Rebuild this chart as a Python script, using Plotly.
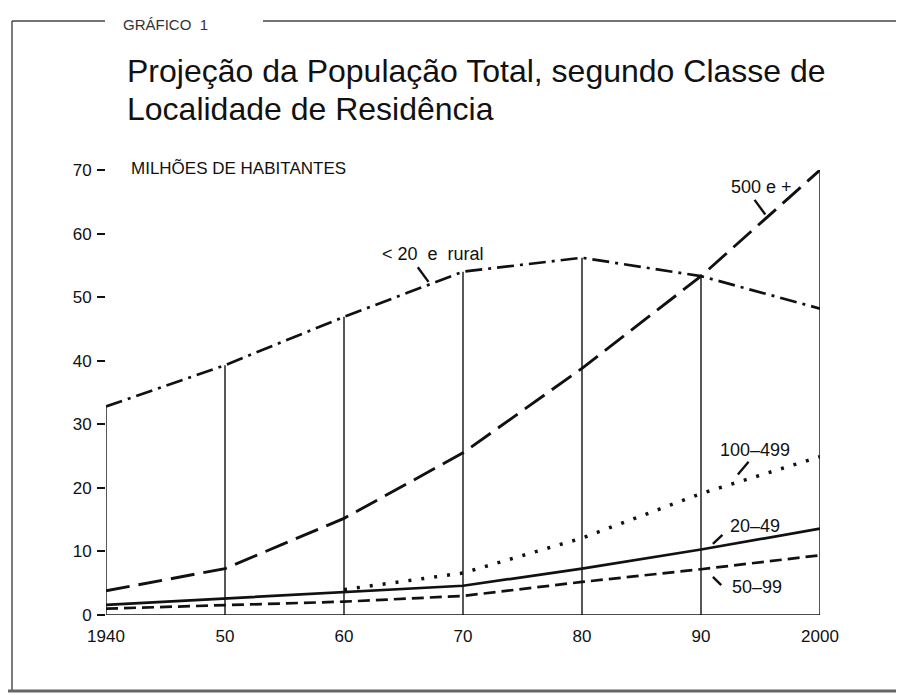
import plotly.graph_objects as go

# ---------------- data ----------------
years = [1940, 1950, 1960, 1970, 1980, 1990, 2000]
tick_text = ["1940", "50", "60", "70", "80", "90", "2000"]

rural_lt20 = [32.8, 39.3, 46.9, 54.0, 56.2, 53.3, 48.2]   # < 20 e rural
big_500 = [3.8, 7.3, 15.2, 25.5, 38.8, 53.3, 70.0]        # 500 e +
mid_100_499 = [None, None, 4.0, 6.6, 12.1, 19.1, 24.9]    # 100-499
small_20_49 = [1.6, 2.6, 3.6, 4.6, 7.3, 10.3, 13.6]       # 20-49
small_50_99 = [1.0, 1.5, 2.1, 3.0, 5.2, 7.2, 9.4]         # 50-99

y_ticks = [0, 10, 20, 30, 40, 50, 60, 70]

FONT = "Liberation Sans"
INK = "#111111"

# the page body adds an 8px offset; work in reference-pixel coordinates
OFF = 8
FIG_W, FIG_H = 904 - OFF, 695 - OFF

fig = go.Figure()

# vertical reference lines at each year, from 0 up to the highest series
all_series = [rural_lt20, big_500, mid_100_499, small_20_49, small_50_99]
vx, vy = [], []
for i, yr in enumerate(years):
    top = max(s[i] for s in all_series if s[i] is not None)
    vx += [yr, yr, None]
    vy += [0, top, None]
fig.add_trace(go.Scatter(x=vx, y=vy, mode="lines", line=dict(color=INK, width=1.4),
                         hoverinfo="skip", cliponaxis=False))
# baseline
fig.add_trace(go.Scatter(x=[years[0], years[-1]], y=[0, 0], mode="lines",
                         line=dict(color=INK, width=1.6), hoverinfo="skip", cliponaxis=False))

series = [
    ("< 20 e rural", rural_lt20, "17px,6px,3px,6px", 2.7),
    ("500 e +", big_500, "24px,9px", 2.9),
    ("100-499", mid_100_499, "3px,10px", 3.5),
    ("20-49", small_20_49, "solid", 2.7),
    ("50-99", small_50_99, "12px,6px", 2.7),
]
for name, vals, dash, w in series:
    fig.add_trace(go.Scatter(x=years, y=vals, name=name, mode="lines",
                             line=dict(color=INK, width=w, dash=dash),
                             cliponaxis=False, connectgaps=False))

# series labels with pointer strokes
labels = [
    ("&lt; 20  e  rural", 1967.5, 56.8, (1966.2, 54.7), (1967.1, 52.4)),
    ("500 e +", 1995.1, 67.4, (1994.5, 65.3), (1995.4, 63.0)),
    ("100–499", 1994.5, 25.9, (1994.0, 24.1), (1993.1, 22.1)),
    ("20–49", 1994.5, 14.0, (1991.8, 12.6), (1991.0, 11.2)),
    ("50–99", 1994.7, 4.4, (1991.0, 6.0), (1991.7, 4.7)),
]
annotations = []
shapes = []
for txt, lx, ly, p0, p1 in labels:
    annotations.append(dict(x=lx, y=ly, xref="x", yref="y", text=txt, showarrow=False,
                            font=dict(family=FONT, size=18, color=INK)))
    shapes.append(dict(type="line", xref="x", yref="y", x0=p0[0], y0=p0[1], x1=p1[0], y1=p1[1],
                       line=dict(color=INK, width=2.4)))

# plot area in reference pixels: x 106..820, y 170..615
L, R, T, B = 106 - OFF, 820 - OFF, 170 - OFF, 615 - OFF
W, H = R - L, B - T
def px(xp):
    return (xp - OFF - L) / W
def py(yp):
    return (B - (yp - OFF)) / H

# title (two lines), header and unit label
title_lines = ["Projeção da População Total, segundo Classe de", "Localidade de Residência"]
for line, top in zip(title_lines, [51, 89]):
    annotations.append(dict(xref="paper", yref="paper", x=px(125), y=py(top), xanchor="left",
                            yanchor="top", align="left", showarrow=False, text=line,
                            font=dict(family=FONT, size=32, color=INK)))
annotations.append(dict(xref="paper", yref="paper", x=px(121), y=py(24), xanchor="left", yanchor="middle",
                        showarrow=False, text="GRÁFICO  1",
                        font=dict(family=FONT, size=15, color="#333333")))
annotations.append(dict(xref="paper", yref="paper", x=px(129), y=py(169), xanchor="left", yanchor="middle",
                        showarrow=False, text="MILHÕES DE HABITANTES",
                        font=dict(family=FONT, size=17, color=INK)))

# frame around the figure
frame_col = "#444444"
shapes += [
    dict(type="line", xref="paper", yref="paper", x0=px(12), y0=py(21), x1=px(105), y1=py(21),
         line=dict(color=frame_col, width=1.4)),
    dict(type="line", xref="paper", yref="paper", x0=px(263), y0=py(21), x1=px(904), y1=py(21),
         line=dict(color=frame_col, width=1.4)),
    dict(type="line", xref="paper", yref="paper", x0=px(12), y0=py(21), x1=px(12), y1=py(691),
         line=dict(color=frame_col, width=1.4)),
    dict(type="line", xref="paper", yref="paper", x0=px(8), y0=py(691), x1=px(904), y1=py(691),
         line=dict(color="#666666", width=3)),
]

fig.update_layout(
    width=FIG_W, height=FIG_H,
    margin=dict(l=L, r=FIG_W - R, t=T, b=FIG_H - B, pad=0),
    paper_bgcolor="white", plot_bgcolor="white",
    showlegend=False,
    annotations=annotations, shapes=shapes,
    xaxis=dict(range=[1940, 2000], tickvals=years, ticktext=tick_text, showgrid=False,
               zeroline=False, showline=False, ticks="", ticklabelstandoff=9,
               tickfont=dict(family=FONT, size=17, color=INK)),
    yaxis=dict(range=[0, 70], tickvals=y_ticks, showgrid=False, zeroline=False, showline=False,
               ticks="outside", ticklen=8, tickwidth=1.6, tickcolor=INK, ticklabelstandoff=2,
               tickfont=dict(family=FONT, size=17, color=INK)),
)

fig.write_html("out.html")
